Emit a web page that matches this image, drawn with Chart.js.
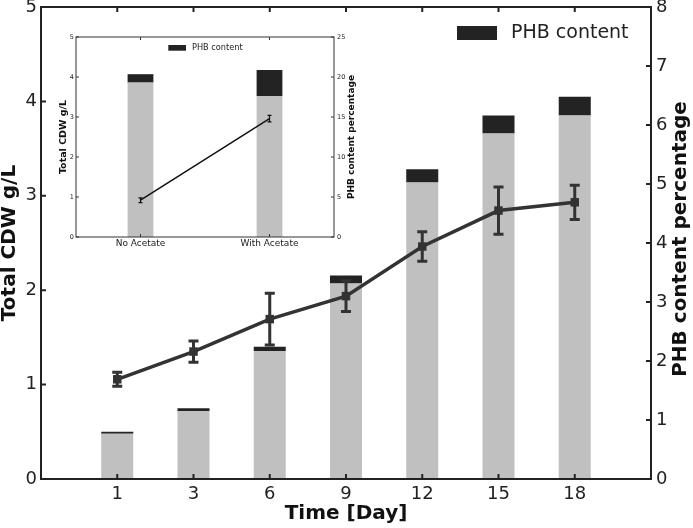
<!DOCTYPE html>
<html>
<head>
<meta charset="utf-8">
<script src="https://cdn.jsdelivr.net/npm/chart.js@4"></script>
<style>
  html, body { margin: 0; padding: 0; background: #fff; }
  #wrap { position: relative; width: 693px; height: 528px; }
  #main { position: absolute; left: 0; top: 0; }
  #inset { position: absolute; left: 50px; top: 28px; }
</style>
</head>
<body>
<div id="wrap">
  <canvas id="main" width="693" height="528"></canvas>
  <canvas id="inset" width="312" height="226"></canvas>
</div>
<script>
// main chart data
const days = ['1', '3', '6', '9', '12', '15', '18'];
const cdwRest = [0.48, 0.72, 1.355, 2.07, 3.14, 3.66, 3.85];   // grey part, g/L
const phbPart = [0.02, 0.03, 0.045, 0.085, 0.14, 0.19, 0.20];  // black part, g/L
const phbPct = [1.69, 2.16, 2.71, 3.10, 3.94, 4.55, 4.69];    // right axis, %
const phbErr = [0.12, 0.18, 0.44, 0.26, 0.25, 0.40, 0.29];
const leftTicks = [0, 1, 2, 3, 4, 5];
const rightTicks = [0, 1, 2, 3, 4, 5, 6, 7, 8];

// inset data
const insetGroups = ['No Acetate', 'With Acetate'];
const insetRest = [3.86, 3.525];
const insetPhb = [0.21, 0.65];
const insetPct = [4.6, 14.8];
const insetErr = [0.3, 0.4];
const insetLeftTicks = [0, 1, 2, 3, 4, 5];
const insetRightTicks = [0, 5, 10, 15, 20, 25];

Chart.defaults.font.family = 'DejaVu Sans';
Chart.defaults.color = '#222';

// one empty slot each side of the days
const pad = arr => [null, ...arr, null];
const setTicks = list => s => { s.ticks = list.map(v => ({ value: v })); };
const noGrid = { display: false, drawTicks: false };

// box, inward ticks, error bars, right title, legend
const framePlugin = {
  id: 'frame',
  afterDatasetsDraw(chart, args, o) {
    const ctx = chart.ctx;
    ctx.save();
    chart.data.datasets.forEach((ds, di) => {
      if (!ds.errors) return;
      const meta = chart.getDatasetMeta(di);
      const ys = chart.scales[ds.yAxisID];
      ctx.strokeStyle = ds.borderColor;
      ctx.lineWidth = o.errWidth;
      meta.data.forEach((pt, i) => {
        const v = ds.data[i], e = ds.errors[i];
        if (v == null || e == null) return;
        const lo = ys.getPixelForValue(v - e), hi = ys.getPixelForValue(v + e);
        ctx.beginPath();
        ctx.moveTo(pt.x, lo); ctx.lineTo(pt.x, hi);
        ctx.moveTo(pt.x - o.cap, lo); ctx.lineTo(pt.x + o.cap, lo);
        ctx.moveTo(pt.x - o.cap, hi); ctx.lineTo(pt.x + o.cap, hi);
        ctx.stroke();
      });
    });
    ctx.restore();
  },
  afterDraw(chart, args, o) {
    const ctx = chart.ctx, a = chart.chartArea;
    ctx.save();
    ctx.strokeStyle = o.color;
    ctx.lineWidth = o.lineWidth;
    ctx.strokeRect(a.left, a.top, a.right - a.left, a.bottom - a.top);

    const len = o.tickLen;
    ctx.beginPath();
    const x = chart.scales.x;
    x.ticks.forEach((t, i) => {
      if (t.label === '') return;
      const px = x.getPixelForTick(i);
      ctx.moveTo(px, a.bottom); ctx.lineTo(px, a.bottom - len);
      ctx.moveTo(px, a.top); ctx.lineTo(px, a.top + len);
    });
    const y = chart.scales.y;
    y.ticks.forEach((t, i) => {
      const py = y.getPixelForTick(i);
      ctx.moveTo(a.left, py); ctx.lineTo(a.left + len, py);
    });
    const y2 = chart.scales.y2;
    y2.ticks.forEach((t, i) => {
      const py = y2.getPixelForTick(i);
      ctx.moveTo(a.right, py); ctx.lineTo(a.right - len, py);
    });
    ctx.stroke();

    // right axis title, reading bottom to top
    ctx.fillStyle = '#111';
    ctx.font = 'bold ' + o.rightTitle.size + 'px "DejaVu Sans"';
    ctx.textAlign = 'center';
    ctx.textBaseline = 'middle';
    ctx.save();
    ctx.translate(o.rightTitle.x, (a.top + a.bottom) / 2 + o.rightTitle.dy);
    ctx.rotate(-Math.PI / 2);
    ctx.fillText(o.rightTitle.text, 0, 0);
    ctx.restore();

    // legend: only the PHB entry
    const lg = o.legend;
    const ds = chart.data.datasets.find(d => d.label === lg.label);
    ctx.fillStyle = ds.backgroundColor;
    ctx.fillRect(lg.x, lg.y, lg.w, lg.h);
    ctx.fillStyle = '#222';
    ctx.font = lg.size + 'px "DejaVu Sans"';
    ctx.textAlign = 'left';
    ctx.fillText(ds.label, lg.textX, lg.y + lg.h / 2);
    ctx.restore();
  }
};

// Gráfica principal
new Chart(document.getElementById('main'), {
  data: {
    labels: pad(days),
    datasets: [
      {
        type: 'line', label: 'PHB %', data: pad(phbPct), errors: pad(phbErr),
        yAxisID: 'y2', borderColor: '#333', backgroundColor: '#333', borderWidth: 3.5,
        pointStyle: 'rect', pointRadius: 6, pointBorderWidth: 0, pointBackgroundColor: '#333',
        order: 0
      },
      {
        type: 'bar', label: 'CDW', data: pad(cdwRest), yAxisID: 'y', stack: 's',
        backgroundColor: '#c0c0c0', categoryPercentage: 0.42, barPercentage: 1, order: 1
      },
      {
        type: 'bar', label: 'PHB content', data: pad(phbPart), yAxisID: 'y', stack: 's',
        backgroundColor: '#232323', categoryPercentage: 0.42, barPercentage: 1, order: 1
      }
    ]
  },
  options: {
    responsive: false,
    animation: false,
    devicePixelRatio: 1,
    layout: { padding: { top: 7, left: 0, right: 0, bottom: 0 } },
    plugins: {
      legend: { display: false },
      tooltip: { enabled: false },
      frame: {
        color: '#222', lineWidth: 2, tickLen: 5, errWidth: 3, cap: 5,
        rightTitle: { text: 'PHB content percentage', x: 681, dy: -4, size: 20 },
        legend: { label: 'PHB content', x: 457, y: 26, w: 40, h: 14, textX: 511, size: 19 }
      }
    },
    scales: {
      x: {
        stacked: true, offset: false,
        grid: noGrid, border: { display: false },
        ticks: { autoSkip: false, maxRotation: 0, padding: 5, font: { size: 18 } },
        title: { display: true, text: 'Time [Day]', color: '#111', font: { size: 20, weight: 'bold' }, padding: { top: 0, bottom: 2 } },
        afterFit(s) { s.height = 49; s.paddingLeft = 0; s.paddingRight = 0; }
      },
      y: {
        position: 'left', stacked: true, min: leftTicks[0], max: leftTicks[leftTicks.length - 1],
        grid: noGrid, border: { display: false },
        ticks: { padding: 4, font: { size: 18 } },
        afterBuildTicks: setTicks(leftTicks),
        title: { display: true, text: 'Total CDW g/L', color: '#111', font: { size: 20, weight: 'bold', lineHeight: 1 }, padding: { top: 0, bottom: 0 } },
        afterFit(s) { s.width = 41; s.paddingTop = 0; s.paddingBottom = 0; }
      },
      y2: {
        position: 'right', min: rightTicks[0], max: rightTicks[rightTicks.length - 1],
        grid: noGrid, border: { display: false },
        ticks: { padding: 5, font: { size: 18 } },
        afterBuildTicks: setTicks(rightTicks),
        afterFit(s) { s.width = 42; s.paddingTop = 0; s.paddingBottom = 0; }
      }
    }
  },
  plugins: [framePlugin]
});

// Gráfica insertada (acetato)
new Chart(document.getElementById('inset'), {
  data: {
    labels: insetGroups,
    datasets: [
      {
        type: 'line', label: 'PHB %', data: insetPct, errors: insetErr,
        yAxisID: 'y2', borderColor: '#111', backgroundColor: '#111', borderWidth: 1.5,
        pointRadius: 0, order: 0
      },
      {
        type: 'bar', label: 'CDW', data: insetRest, yAxisID: 'y', stack: 's',
        backgroundColor: '#c0c0c0', categoryPercentage: 0.2, barPercentage: 1, order: 1
      },
      {
        type: 'bar', label: 'PHB content', data: insetPhb, yAxisID: 'y', stack: 's',
        backgroundColor: '#232323', categoryPercentage: 0.2, barPercentage: 1, order: 1
      }
    ]
  },
  options: {
    responsive: false,
    animation: false,
    devicePixelRatio: 1,
    layout: { padding: { top: 9, left: 0, right: 0, bottom: 0 } },
    plugins: {
      legend: { display: false },
      tooltip: { enabled: false },
      frame: {
        color: '#333', lineWidth: 1, tickLen: 3, errWidth: 1.2, cap: 2,
        rightTitle: { text: 'PHB content percentage', x: 301.5, dy: 0, size: 9 },
        legend: { label: 'PHB content', x: 118.3, y: 17, w: 17.7, h: 5.7, textX: 142, size: 8.2 }
      }
    },
    scales: {
      x: {
        stacked: true, offset: true,
        grid: noGrid, border: { display: false },
        ticks: { autoSkip: false, maxRotation: 0, padding: 1, font: { size: 9 } },
        afterFit(s) { s.height = 17; s.paddingLeft = 0; s.paddingRight = 0; }
      },
      y: {
        position: 'left', stacked: true, min: insetLeftTicks[0], max: insetLeftTicks[insetLeftTicks.length - 1],
        grid: noGrid, border: { display: false },
        ticks: { padding: 2, font: { size: 6.5 } },
        afterBuildTicks: setTicks(insetLeftTicks),
        title: { display: true, text: 'Total CDW g/L', color: '#111', font: { size: 9.5, weight: 'bold', lineHeight: 1 }, padding: { top: 9, bottom: 0 } },
        afterFit(s) { s.width = 26; s.paddingTop = 0; s.paddingBottom = 0; }
      },
      y2: {
        position: 'right', min: insetRightTicks[0], max: insetRightTicks[insetRightTicks.length - 1],
        grid: noGrid, border: { display: false },
        ticks: { padding: 3, font: { size: 6.5 } },
        afterBuildTicks: setTicks(insetRightTicks),
        afterFit(s) { s.width = 28; s.paddingTop = 0; s.paddingBottom = 0; }
      }
    }
  },
  plugins: [framePlugin]
});
</script>
</body>
</html>
